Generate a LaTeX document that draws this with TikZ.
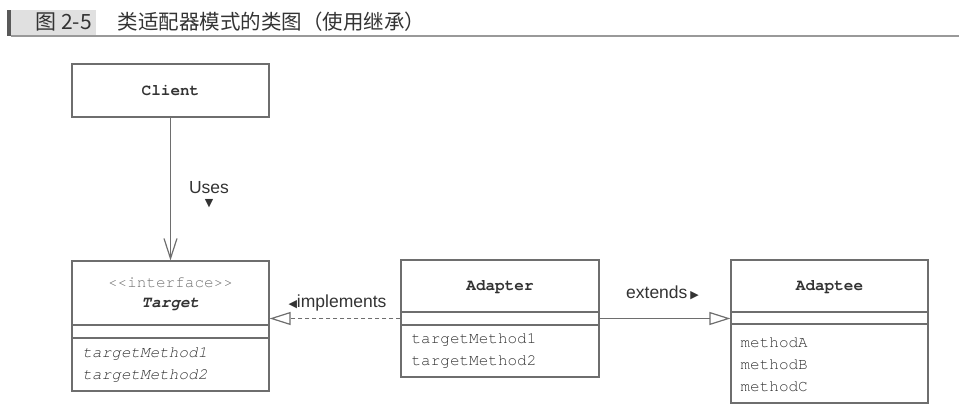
\documentclass[tikz,border=0pt]{standalone}
\usepackage{fontspec}
\setmainfont{Liberation Sans}
\setmonofont{TeX Gyre Cursor}
\newfontfamily\cjk{Noto Sans CJK SC}
\newfontfamily\symb{DejaVu Sans}
\usetikzlibrary{arrows.meta}
\definecolor{umlline}{HTML}{6E6E6E}
\definecolor{umltext}{HTML}{333333}
\tikzset{
  classbox/.style={draw=umlline,line width=1.2pt,minimum width=197pt,inner sep=0pt},
  clsname/.style={font=\ttfamily\bfseries\fontsize{16}{20}\selectfont,text=umltext,inner sep=0pt},
  opstext/.style={font=\ttfamily\fontsize{16}{22}\selectfont,text=umltext,align=left,anchor=west,inner sep=0pt},
  lbl/.style={font=\fontsize{17.5}{20}\selectfont,text=umltext,inner sep=0pt},
  tri/.style={font=\symb\fontsize{11}{11}\selectfont,text=umltext},
  inherit/.style={draw=umlline,-{Triangle[open,length=21pt,width=13pt,fill=white]}},
}
\begin{document}
\begin{tikzpicture}[x=1pt,y=-1pt,line width=1.2pt]
\useasboundingbox(0,0)rectangle(959,411);
\fill[black!65](7,10)rectangle(11,36);
\fill[black!12](11,10)rectangle(96,36);
\draw[black!40,line width=2pt](11,36.5)--(959,36.5);
\node[lbl,anchor=west,font=\cjk\fontsize{21}{22}\selectfont](fignum)at(35,22){图 2-5};
\node[lbl,anchor=west,font=\cjk\fontsize{20.5}{22}\selectfont](figtitle)at(117,22){类适配器模式的类图（使用继承）};
\node[classbox,clsname,minimum height=53pt](client)at(170.5,90.5){Client};
\node[classbox,minimum height=130pt](target)at(170.5,326){};
\node[font=\ttfamily\fontsize{16}{20}\selectfont,text=black!55](target-stereo)at(170.5,283){<{}<interface>{}>};
\node[clsname,font=\ttfamily\bfseries\itshape\fontsize{16}{20}\selectfont](target-name)at(170.5,304){Target};
\draw[umlline](target.west|-0,325)--(target.east|-0,325);
\draw[umlline](target.west|-0,338)--(target.east|-0,338);
\node[opstext,font=\ttfamily\itshape\fontsize{16}{22}\selectfont](target-ops)at(82,365){targetMethod1\\targetMethod2};
\node[classbox,minimum width=198pt,minimum height=117pt](adapter)at(500,318.5){};
\node[clsname](adapter-name)at(500,287){Adapter};
\draw[umlline](adapter.west|-0,312)--(adapter.east|-0,312);
\draw[umlline](adapter.west|-0,325)--(adapter.east|-0,325);
\node[opstext](adapter-ops)at(411,351.5){targetMethod1\\targetMethod2};
\node[classbox,minimum height=143pt](adaptee)at(829.5,331.5){};
\node[clsname](adaptee-name)at(829.5,287){Adaptee};
\draw[umlline](adaptee.west|-0,312)--(adaptee.east|-0,312);
\draw[umlline](adaptee.west|-0,324)--(adaptee.east|-0,324);
\node[opstext](adaptee-ops)at(740,365){methodA\\methodB\\methodC};
\draw[umlline,-{Straight Barb[length=20pt,width=13pt]}](client)--(target);
\node[lbl](uses)at(209,188){Uses};
\node[tri](uses-tri)at(209,204){▼};
\draw[inherit,dash pattern=on 4pt off 3pt](adapter.west)--(adapter.west-|target.east);
\node[lbl](implements)at(337.5,303){{\symb\fontsize{11}{11}\selectfont◀}implements};
\draw[inherit](adapter.east)--(adapter.east-|adaptee.west);
\node[lbl](extends)at(662.5,293){extends\,{\symb\fontsize{11}{11}\selectfont▶}};
\end{tikzpicture}
\end{document}
